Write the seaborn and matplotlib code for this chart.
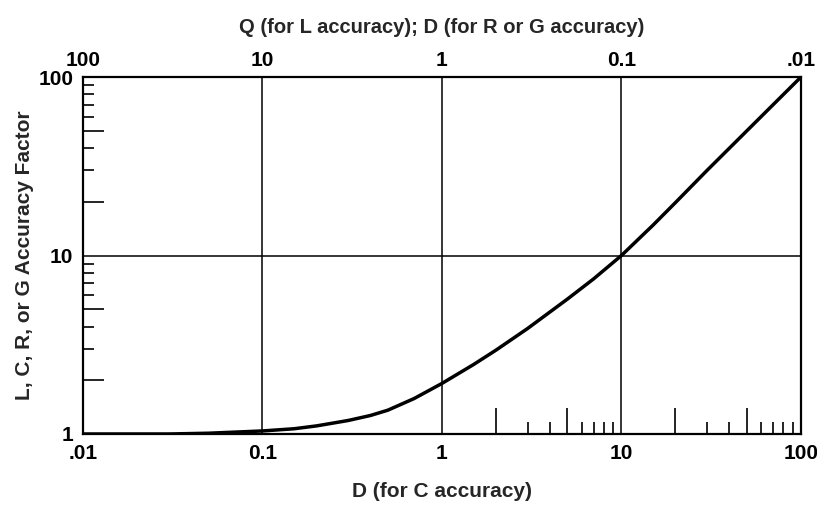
import matplotlib
matplotlib.use("Agg")
import matplotlib.pyplot as plt
import pandas as pd
import seaborn as sns

# Values
d_values = [0.01, 0.03, 0.05, 0.1, 0.15, 0.2, 0.3, 0.4, 0.5, 0.7, 1, 1.5, 2, 3, 5,
            7, 10, 15, 20, 30, 50, 100]
accuracy_factor = [1.0, 1.0, 1.01, 1.04, 1.07, 1.11, 1.19, 1.27, 1.36, 1.58, 1.92,
                   2.45, 2.95, 3.9, 5.7, 7.4, 10.0, 14.8, 19.8, 30.0, 50.0, 100.0]

x_major = [0.01, 0.1, 1, 10, 100]
bottom_labels = [".01", "0.1", "1", "10", "100"]
top_labels = ["100", "10", "1", "0.1", ".01"]
y_major = [1, 10, 100]
y_labels = ["1", "10", "100"]

x_long = [2, 5, 20, 50]
x_short = [3, 4, 6, 7, 8, 9, 30, 40, 60, 70, 80, 90]
y_long = [2, 5, 20, 50]
y_short = [3, 4, 6, 7, 8, 9, 30, 40, 60, 70, 80, 90]

sns.set_theme(style="white")
plt.rcParams["font.family"] = ["Liberation Sans", "DejaVu Sans"]
plt.rcParams["font.weight"] = "bold"

df = pd.DataFrame({"D": d_values, "factor": accuracy_factor})

fig = plt.figure(figsize=(8.17, 5.11), dpi=100)
ax = fig.add_axes([0.1016, 0.1507, 0.8786, 0.6983])

sns.lineplot(data=df, x="D", y="factor", ax=ax, color="black", linewidth=2.5)
ax.set_xscale("log")
ax.set_yscale("log")
ax.set_xlim(0.01, 100)
ax.set_ylim(1, 100)

# grid only at decades
for v in x_major[1:-1]:
    ax.axvline(v, color="black", linewidth=1.1, zorder=1)
ax.axhline(10, color="black", linewidth=1.1, zorder=1)

for s in ax.spines.values():
    s.set_color("black")
    s.set_linewidth(1.6)

ax.set_xticks(x_major, labels=bottom_labels)
ax.set_yticks(y_major, labels=y_labels)
ax.set_xticks(x_long, minor=True)
ax.set_yticks(y_long, minor=True)
ax.xaxis.set_minor_formatter(plt.NullFormatter())
ax.yaxis.set_minor_formatter(plt.NullFormatter())
ax.tick_params(bottom=True, left=True, which="both")
ax.tick_params(axis="both", which="major", length=0, labelsize=15, colors="black")
ax.tick_params(axis="x", which="major", pad=7)
ax.tick_params(axis="y", which="major", pad=7)
ax.tick_params(axis="x", which="minor", direction="in", length=19, width=1.2, color="black")
ax.tick_params(axis="y", which="minor", direction="in", length=15, width=1.2, color="black")

# short tick marks
sx = ax.secondary_xaxis("bottom")
sx.set_xticks(x_short, labels=[])
sx.set_xticks([], minor=True)
sx.tick_params(bottom=True, direction="in", length=9, width=1.2, color="black")
sx.spines["bottom"].set_visible(False)

sy = ax.secondary_yaxis("left")
sy.set_yticks(y_short, labels=[])
sy.set_yticks([], minor=True)
sy.tick_params(left=True, direction="in", length=8, width=1.2, color="black")
sy.spines["left"].set_visible(False)

# top axis
top = ax.secondary_xaxis("top")
top.set_xticks(x_major, labels=top_labels)
top.set_xticks([], minor=True)
top.tick_params(length=0, labelsize=15, pad=5, colors="black")
top.set_xlabel("Q (for L accuracy); D (for R or G accuracy)", fontsize=14.5,
               fontweight="bold", labelpad=13)

ax.set_xlabel("D (for C accuracy)", fontsize=15, fontweight="bold", labelpad=14)
ax.set_ylabel("L, C, R, or G Accuracy Factor", fontsize=15, fontweight="bold", labelpad=3)

fig.savefig("out.png", dpi=100, facecolor="white")
